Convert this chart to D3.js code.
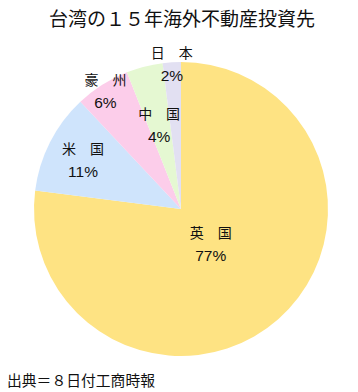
<!DOCTYPE html>
<html><head><meta charset="utf-8">
<script src="https://cdn.jsdelivr.net/npm/d3@7"></script>
<style>body{margin:0;background:#fff}svg{display:block}</style>
</head><body>
<svg id="c" width="358" height="392"></svg>
<script>
const categories = ["英　国", "米　国", "豪　州", "中　国", "日　本"];
const values = [77, 11, 6, 4, 2];
const colors = ["#FEE383", "#CFE4FC", "#FCCDEA", "#E5F8D2", "#E2E0F2"];
const title = "台湾の１５年海外不動産投資先";
const source = "出典＝８日付工商時報";

const labelR = [45, 110, 141, 88, 146];
const font = "'Liberation Sans', 'Noto Sans CJK JP', sans-serif";
const svg = d3.select("#c");
const cx = 181, cy = 209, R = 147;

svg.append("text").attr("x", 182).attr("y", 26).attr("text-anchor", "middle")
  .attr("font-family", font).attr("font-size", 19).attr("fill", "#111").text(title);

const pie = d3.pie().sort(null).value(d => d.v)(values.map((v, i) => ({v, i})));
const arc = d3.arc().innerRadius(0).outerRadius(R);
const g = svg.append("g").attr("transform", `translate(${cx},${cy})`);
g.selectAll("path").data(pie).join("path")
  .attr("d", arc).attr("fill", d => colors[d.data.i]);

pie.forEach(d => {
  const a = (d.startAngle + d.endAngle) / 2;
  const r = labelR[d.data.i];
  const x = Math.sin(a) * r, y = -Math.cos(a) * r;
  g.append("text").attr("x", x).attr("y", y - 5).attr("text-anchor", "middle")
    .attr("font-family", font).attr("font-size", 14).attr("fill", "#111").text(categories[d.data.i]);
  g.append("text").attr("x", x).attr("y", y + 18).attr("text-anchor", "middle")
    .attr("font-family", font).attr("font-size", 15.5).attr("fill", "#111").text(values[d.data.i] + "%");
});

svg.append("text").attr("x", 7).attr("y", 386)
  .attr("font-family", font).attr("font-size", 14.8).attr("fill", "#111").text(source);
</script>
</body></html>
